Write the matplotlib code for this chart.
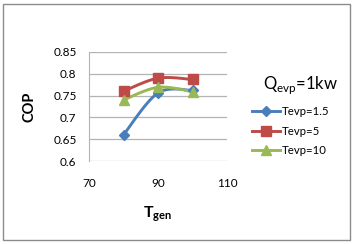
import numpy as np
import matplotlib
matplotlib.use("Agg")
import matplotlib.pyplot as plt
from matplotlib.patches import Rectangle

plt.rcParams['font.family'] = ['Lato', 'DejaVu Sans']
plt.rcParams['mathtext.fontset'] = 'custom'
plt.rcParams['mathtext.rm'] = 'Lato'
plt.rcParams['mathtext.bf'] = 'Lato:bold'

# data
t_gen = [80, 90, 100]
cop_15 = [0.66, 0.756, 0.762]
cop_5 = [0.76, 0.790, 0.787]
cop_10 = [0.74, 0.769, 0.759]
series_labels = ['Tevp=1.5', 'Tevp=5', 'Tevp=10']
x_ticks = [70, 90, 110]
y_ticks = [0.6, 0.65, 0.7, 0.75, 0.8, 0.85]
y_tick_labels = ['0.6', '0.65', '0.7', '0.75', '0.8', '0.85']


def smooth(xs, ys, n=30):
    # excel-like smoothed line (catmull-rom as bezier)
    p = np.column_stack([xs, ys]).astype(float)
    pts = [p[0]]
    for i in range(len(p) - 1):
        p0 = p[i - 1] if i > 0 else p[i]
        p3 = p[i + 2] if i + 2 < len(p) else p[i + 1]
        c1 = p[i] + (p[i + 1] - p0) / 6
        c2 = p[i + 1] - (p3 - p[i]) / 6
        t = np.linspace(0, 1, n)[1:, None]
        b = ((1 - t) ** 3 * p[i] + 3 * (1 - t) ** 2 * t * c1
             + 3 * (1 - t) * t ** 2 * c2 + t ** 3 * p[i + 1])
        pts.extend(b)
    pts = np.array(pts)
    return pts[:, 0], pts[:, 1]


fig = plt.figure(figsize=(3.53, 2.44), dpi=100)
fig.patches.append(Rectangle((3 / 353, 4 / 244), 347 / 353, 236 / 244,
                             transform=fig.transFigure, fill=False,
                             edgecolor='#8c8c8c', lw=1))
ax = fig.add_axes([89 / 353, 1 - 161 / 244, 138 / 353, 109 / 244])

colors = ['#4a7ebb', '#be4b48', '#98b954']
markers = ['D', 's', '^']
msizes = [5.5, 7.5, 7.5]
for ys, c, m, ms, lab in zip([cop_15, cop_5, cop_10], colors, markers, msizes, series_labels):
    sx, sy = smooth(t_gen, ys)
    ax.plot(sx, sy, color=c, lw=2.1, zorder=3)
    ax.plot(t_gen, ys, ls='none', marker=m, ms=ms, color=c, zorder=4)
    ax.plot([], [], color=c, lw=2.1, marker=m, ms=ms, label=lab)

ax.set_xlim(70, 110)
ax.set_ylim(0.6, 0.85)
ax.set_xticks(x_ticks)
ax.set_yticks(y_ticks)
ax.set_yticklabels(y_tick_labels)
ax.tick_params(length=0, labelsize=8.5, colors='black')
ax.tick_params(axis='y', pad=9)
ax.tick_params(axis='x', pad=12)
ax.grid(axis='y', color='#b3b3b3', lw=0.9)
for s in ['top', 'right', 'bottom']:
    ax.spines[s].set_visible(False)
ax.spines['left'].set_color('#b3b3b3')
ax.set_axisbelow(True)

fig.text(30 / 353, 1 - 107 / 244, 'COP', rotation=90, fontsize=10.5,
         fontweight='bold', ha='center', va='center')
fig.text(158 / 353, 1 - 214 / 244, r'$\mathbf{T}_{\mathbf{gen}}$', fontsize=11.5,
         ha='center', va='center')
fig.text(301 / 353, 1 - 85 / 244, r'Q$_{\mathrm{evp}}$=1kw',
         fontsize=12, ha='center', va='center')

fig.legend(loc='upper left', bbox_to_anchor=(252 / 353, 1 - 106 / 244),
           frameon=False, fontsize=8.2, handlelength=2.5, handletextpad=0.1,
           labelspacing=0.75, borderaxespad=0, borderpad=0)

fig.savefig('out.png', dpi=100)
